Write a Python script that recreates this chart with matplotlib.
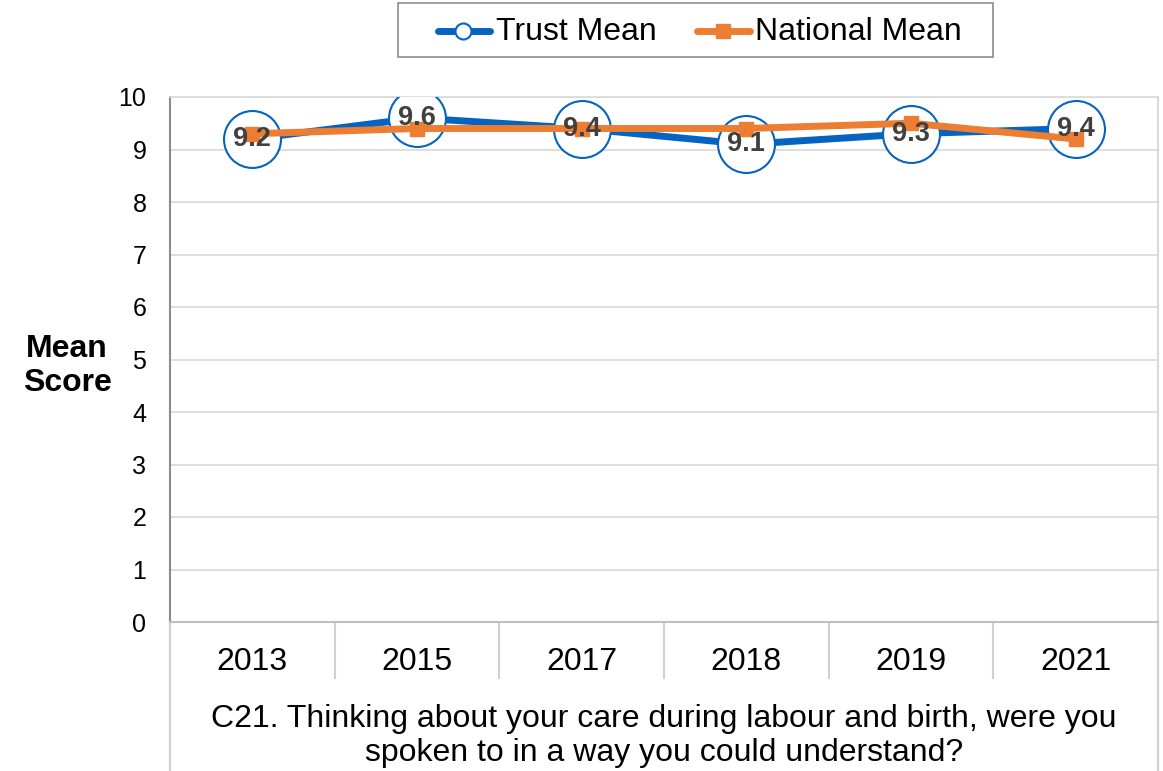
import matplotlib
matplotlib.use("Agg")
import matplotlib.pyplot as plt
from matplotlib.lines import Line2D
from matplotlib.patches import Rectangle
import matplotlib.transforms as mtransforms

plt.rcParams['font.family'] = ['Liberation Sans', 'DejaVu Sans']

years = ["2013", "2015", "2017", "2018", "2019", "2021"]
trust_mean = [9.2, 9.6, 9.4, 9.1, 9.3, 9.4]
national_mean = [9.3, 9.4, 9.4, 9.4, 9.5, 9.2]
series_names = ["Trust Mean", "National Mean"]
question = "C21. Thinking about your care during labour and birth, were you\nspoken to in a way you could understand?"

BLUE = "#0563C1"
ORANGE = "#ED7D31"

W, H = 1163, 771
fig = plt.figure(figsize=(W / 100, H / 100), dpi=100)


def fx(px):
    return px / W


def fy(py):
    return 1 - py / H


left_px, right_px, top_px, bottom_px = 170, 1158, 97, 622
ax = fig.add_axes([left_px / W, (H - bottom_px) / H,
                   (right_px - left_px) / W, (bottom_px - top_px) / H])

x = list(range(len(years)))
ax.set_xlim(-0.5, len(years) - 0.5)
ax.set_ylim(0, 10)
ax.set_yticks(range(0, 11))
ax.tick_params(axis='y', length=0, pad=17, labelsize=18, labelcolor="#000000")
ax.set_xticks([])

ax.grid(axis='y', color="#d9d9d9", lw=1.2, zorder=0)
ax.set_axisbelow(True)
ax.spines["top"].set_color("#d9d9d9")
ax.spines["top"].set_linewidth(1.2)
ax.spines["right"].set_color("#d9d9d9")
ax.spines["right"].set_linewidth(1.5)
ax.spines["left"].set_color("#8c8c8c")
ax.spines["left"].set_linewidth(1.5)
ax.spines["bottom"].set_color("#bfbfbf")
ax.spines["bottom"].set_linewidth(1.5)

# series
ax.plot(x, trust_mean, color=BLUE, lw=5, marker='o', ms=41, mfc='white',
        mec=BLUE, mew=1.5, zorder=3, solid_capstyle='round')
ax.plot(x, national_mean, color=ORANGE, lw=5, marker='s', ms=10,
        mfc=ORANGE, mec=ORANGE, zorder=4)
for xi, v in zip(x, trust_mean):
    ax.text(xi, v, f"{v:.1f}", ha='center', va='center', fontsize=19.5,
            fontweight='bold', color="#404040", zorder=6)

# category table below the axis
trans = mtransforms.blended_transform_factory(ax.transData, ax.transAxes)
axes_h = bottom_px - top_px
sep_bottom = -(678 - bottom_px) / axes_h
fig_bottom = -(H - bottom_px) / axes_h
for b in [i + 0.5 for i in range(len(years) - 1)]:
    ax.add_line(Line2D([b, b], [0, sep_bottom], transform=trans, color="#d0d0d0",
                       lw=1.5, clip_on=False))
for xe in (-0.5, len(years) - 0.5):
    ax.add_line(Line2D([xe, xe], [0, fig_bottom], transform=trans, color="#d0d0d0",
                       lw=1.5, clip_on=False))
for xi, yr in zip(x, years):
    ax.text(xi, -(662 - bottom_px) / axes_h, yr, transform=trans, ha='center',
            va='center', fontsize=23, color="#000000")

fig.text(fx((left_px + right_px) / 2), fy(736), question, ha='center', va='center',
         fontsize=23, linespacing=1.17, color="#000000")

fig.text(fx(67), fy(366), "Mean\nScore", ha='center', va='center', fontsize=23,
         fontweight='bold', linespacing=1.2)

# legend box with handles
fig.add_artist(Rectangle((fx(398), fy(57)), fx(993) - fx(398), fy(3) - fy(57),
                         transform=fig.transFigure, facecolor='white',
                         edgecolor="#8c8c8c", lw=1.2))
ly = fy(31)
fig.add_artist(Line2D([fx(438), fx(490)], [ly, ly], color=BLUE, lw=5,
                      solid_capstyle='round', transform=fig.transFigure))
fig.add_artist(Line2D([fx(463)], [ly], marker='o', ms=11.5, mfc='white', mec=BLUE,
                      mew=1.5, transform=fig.transFigure))
fig.text(fx(496), fy(32), series_names[0], ha='left', va='center', fontsize=23)
fig.add_artist(Line2D([fx(697), fx(750)], [ly, ly], color=ORANGE, lw=5,
                      solid_capstyle='round', transform=fig.transFigure))
fig.add_artist(Line2D([fx(723)], [ly], marker='s', ms=10, mfc=ORANGE, mec=ORANGE,
                      transform=fig.transFigure))
fig.text(fx(755), fy(32), series_names[1], ha='left', va='center', fontsize=23)

fig.savefig("out.png", dpi=100, facecolor='white')
